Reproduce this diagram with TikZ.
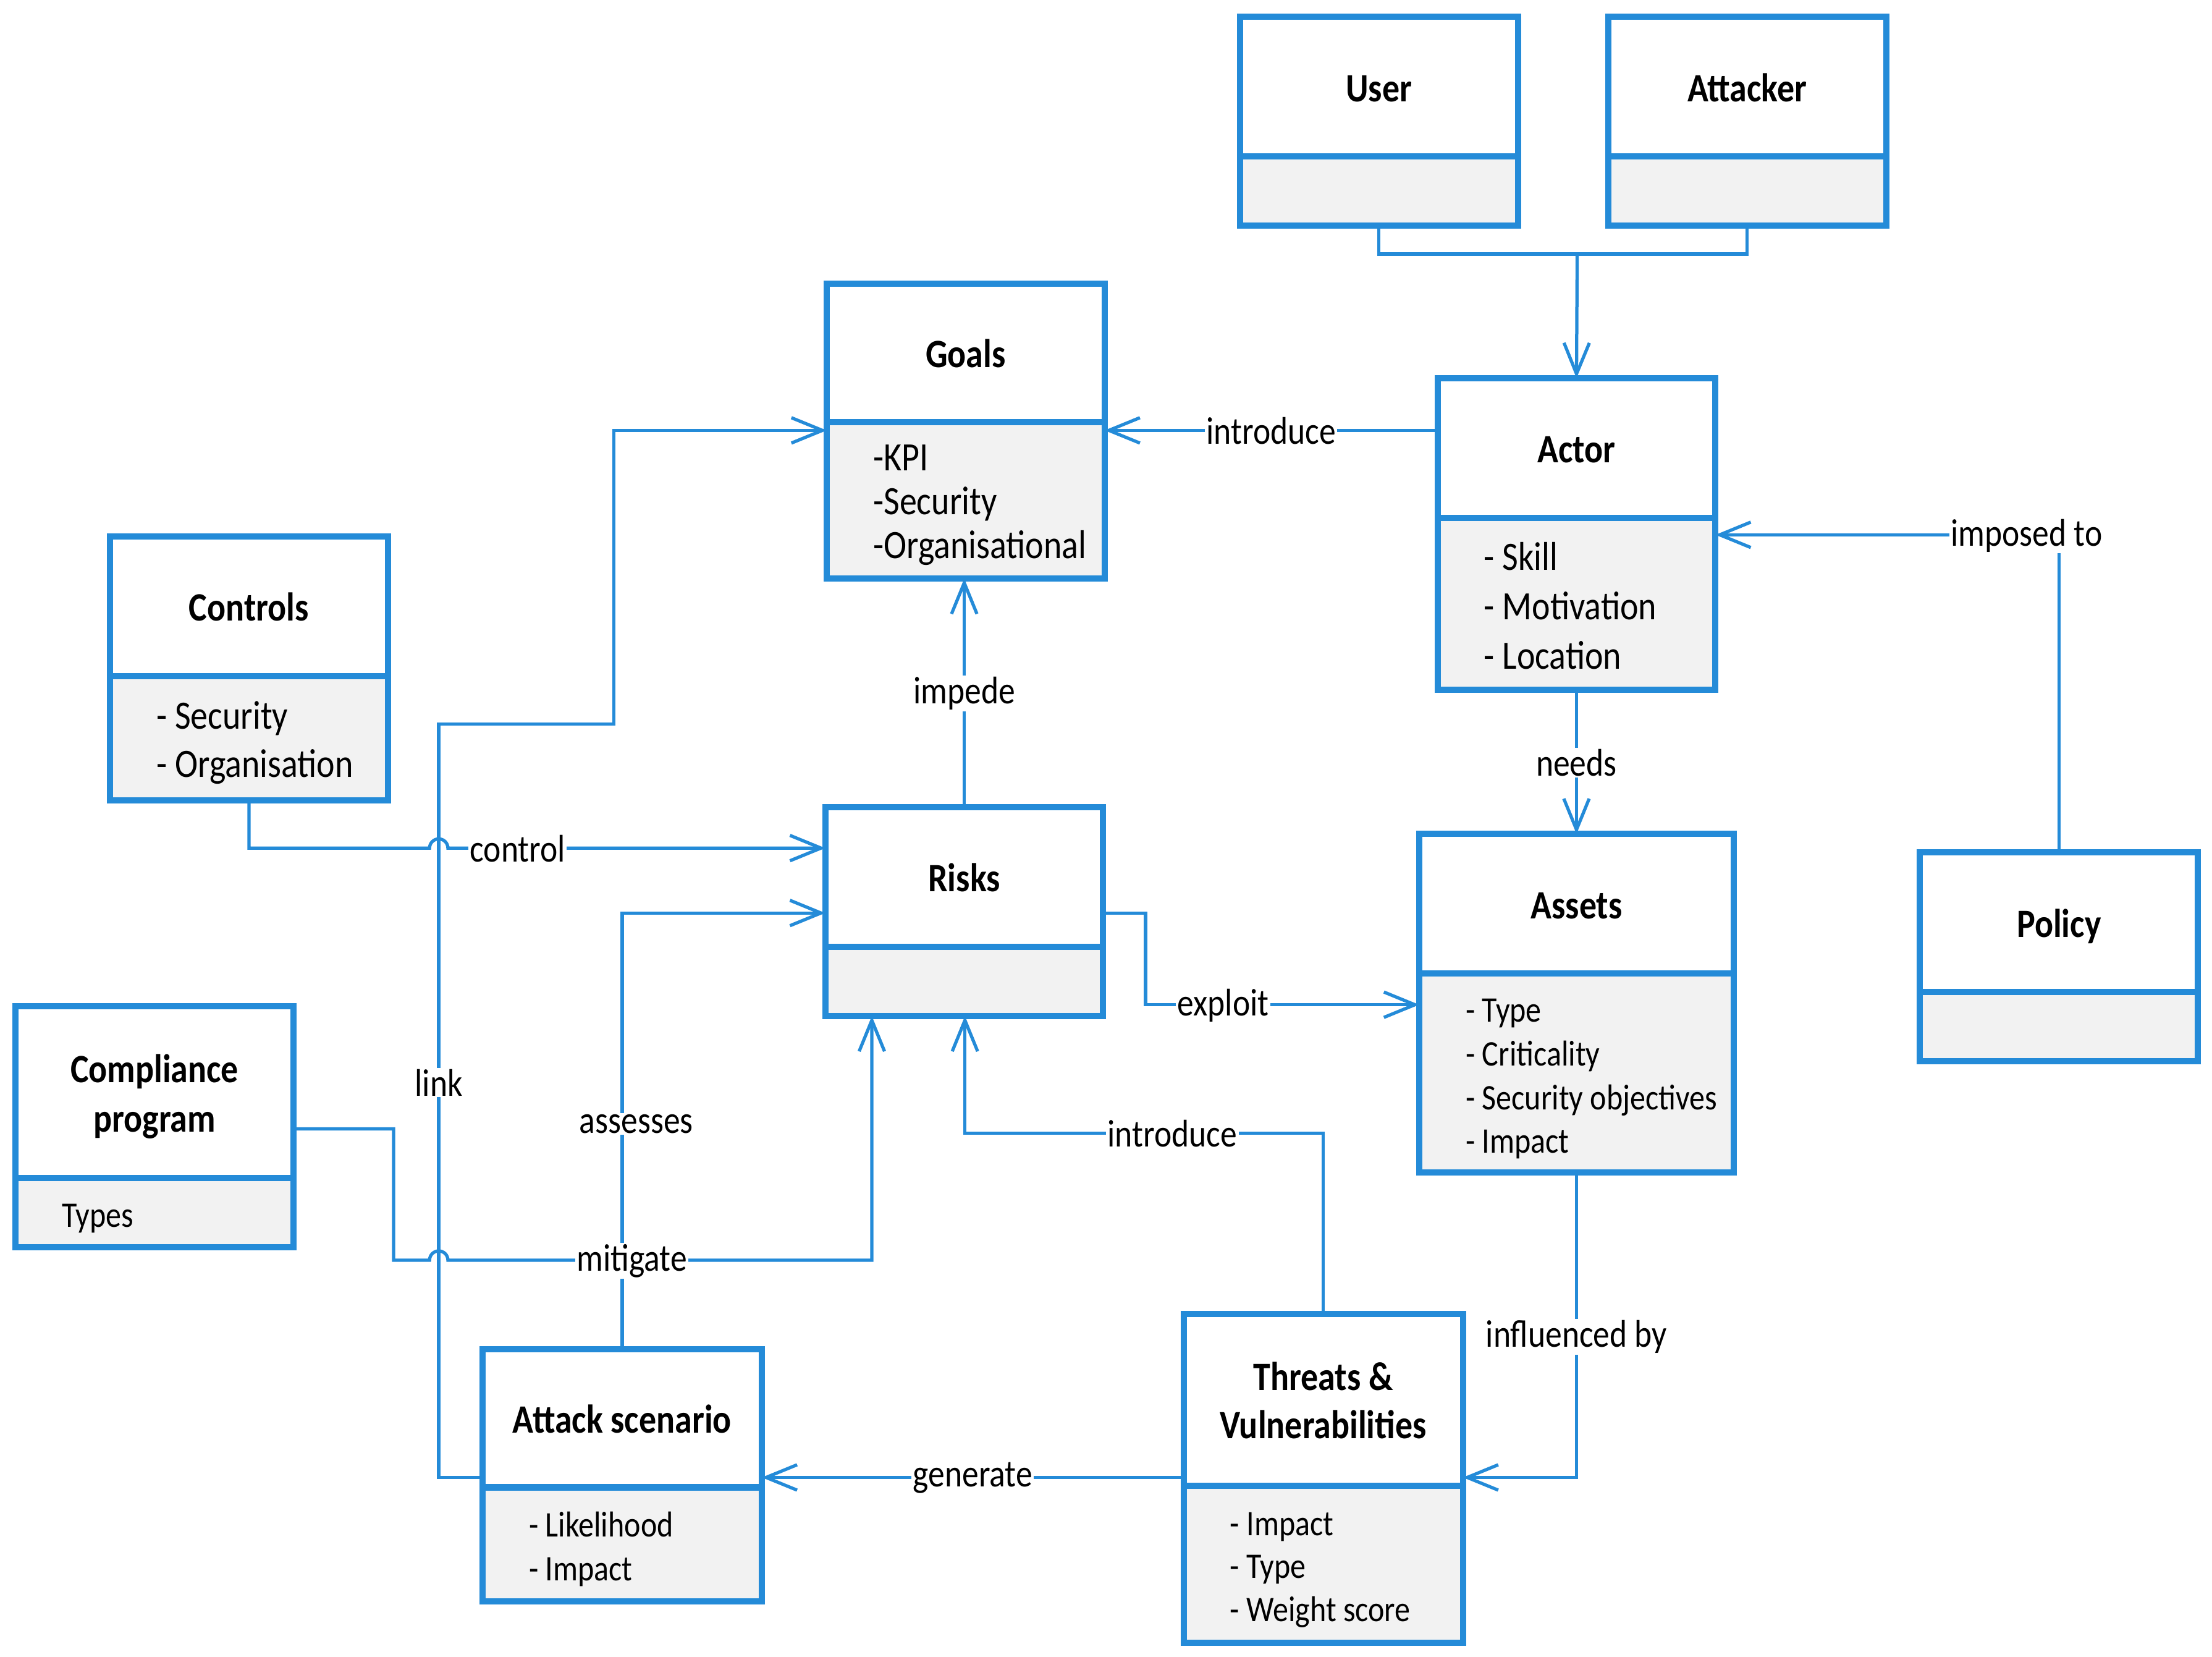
\documentclass[tikz,border=0pt]{standalone}
\usepackage{fontspec}
\setmainfont{Carlito}[FakeStretch=0.86]
\usetikzlibrary{arrows.meta}
\definecolor{umlblue}{RGB}{36,139,216}
\definecolor{cgrey}{RGB}{242,242,242}
\newcommand{\ilist}[2]{\raisebox{-4pt}[\height][\depth]{\makebox[#1pt][l]{\begin{tabular}{@{}l@{}}#2\end{tabular}}}}
\newcommand{\ttl}[1]{\raisebox{-3.5pt}[\height][\depth]{\begin{tabular}{@{}c@{}}#1\end{tabular}}}
\begin{document}
\begin{tikzpicture}[x=1pt,y=-1pt,
  hdr/.style={draw=umlblue, line width=4.4pt, fill=white, outer sep=0pt, inner sep=0pt,
    anchor=north west, font=\fontsize{28.5}{35}\selectfont\bfseries},
  bdy/.style={draw=umlblue, line width=4.4pt, fill=cgrey, outer sep=0pt, inner sep=0pt,
    anchor=north west},
  big/.style={font=\fontsize{28.5}{31}\selectfont},
  small/.style={font=\fontsize{25.5}{31}\selectfont},
  conn/.style={draw=umlblue, line width=2.3pt},
  arr/.style={-{Straight Barb[length=22pt,width=18pt]}},
  lbl/.style={fill=white, inner sep=1pt, text=black, yshift=-0.5pt, font=\fontsize{27.3}{30}\selectfont}]
\useasboundingbox (0,0) rectangle (1568,1174);

% ---- classes ----
\node[hdr, minimum width=197pt, minimum height=99pt] (user) at (879,12) {\ttl{User}};
\node[bdy, minimum width=197pt, minimum height=49pt] (userb) at (879,111) {};

\node[hdr, minimum width=197pt, minimum height=99pt] (attacker) at (1140,12) {\ttl{Attacker}};
\node[bdy, minimum width=197pt, minimum height=49pt] (attackerb) at (1140,111) {};

\node[hdr, minimum width=197pt, minimum height=98pt] (goals) at (586,201) {\ttl{Goals}};
\node[bdy, big, minimum width=197pt, minimum height=111pt] (goalsb) at (586,299)
  {\ilist{131}{-KPI\\-Security\\-Organisational}};

\node[hdr, minimum width=197pt, minimum height=99pt] (actor) at (1019,268) {\ttl{Actor}};
\node[bdy, font=\fontsize{28.5}{35}\selectfont, minimum width=197pt, minimum height=122pt] (actorb) at (1019,367)
  {\ilist{131}{- Skill\\- Motivation\\- Location}};

\node[hdr, minimum width=197pt, minimum height=99pt] (controls) at (78,380) {\ttl{Controls}};
\node[bdy, font=\fontsize{28.5}{34}\selectfont, minimum width=197pt, minimum height=88pt] (controlsb) at (78,479)
  {\ilist{131}{- Security\\- Organisation}};

\node[hdr, minimum width=197pt, minimum height=99pt] (risks) at (585,572) {\ttl{Risks}};
\node[bdy, minimum width=197pt, minimum height=49pt] (risksb) at (585,671) {};

\node[hdr, minimum width=223pt, minimum height=99pt] (assets) at (1006,591) {\ttl{Assets}};
\node[bdy, small, minimum width=223pt, minimum height=141pt] (assetsb) at (1006,690)
  {\ilist{157}{- Type\\- Criticality\\- Security objectives\\- Impact}};

\node[hdr, minimum width=197pt, minimum height=99pt] (policy) at (1361,604) {\ttl{Policy}};
\node[bdy, minimum width=197pt, minimum height=49pt] (policyb) at (1361,703) {};

\node[hdr, minimum width=197pt, minimum height=122pt] (compliance) at (11,713) {\ttl{Compliance\\program}};
\node[bdy, small, minimum width=197pt, minimum height=49pt] (complianceb) at (11,835)
  {\ilist{131}{Types}};

\node[hdr, minimum width=198pt, minimum height=98pt] (attack) at (342,956) {\ttl{Attack scenario}};
\node[bdy, small, minimum width=198pt, minimum height=81pt] (attackb) at (342,1054)
  {\ilist{132}{- Likelihood\\- Impact}};

\node[hdr, minimum width=198pt, minimum height=122pt, font=\fontsize{28.5}{34}\selectfont\bfseries] (threats) at (839,931) {\ttl{Threats \&\\Vulnerabilities}};
\node[bdy, font=\fontsize{25.5}{30.5}\selectfont, minimum width=198pt, minimum height=111pt] (threatsb) at (839,1053)
  {\ilist{132}{- Impact\\- Type\\- Weight score}};

% ---- helper coordinates ----
\coordinate (j) at (1118,180);
\coordinate (r305) at (0,305);
\coordinate (r379) at (0,379);
\coordinate (r601) at (0,601);
\coordinate (r647) at (0,647);
\coordinate (r712) at (0,712);
\coordinate (r800) at (0,800);
\coordinate (r1047) at (0,1047);
\coordinate (c618) at (618,0);
\coordinate (c684) at (684,0);

% ---- connectors ----
\draw[conn] (userb.south) |- (j);
\draw[conn] (attackerb.south) |- (j);
\draw[conn,arr] (j) -- (actor.north);

\draw[conn,arr] (actor.west |- r305) -- node[lbl]{introduce} (goalsb.east |- r305);

\draw[conn,arr] (policy.north) |- node[lbl,pos=0.5,xshift=-23pt]{imposed to} (actorb.east |- r379);

\draw[conn,arr] (actorb.south) -- node[lbl]{needs} (assets.north);

\draw[conn,arr] (risks.north) -- node[lbl]{impede} (risks.north |- goalsb.south);

\draw[conn,arr] (attack.west |- r1047) -- (311,1047) -- node[lbl,pos=0.525]{link} (311,513)
  -- (435,513) -- (435,305) -- (goalsb.west |- r305);

\draw[conn,arr] (controlsb.south) |- (304.5,601) arc[start angle=180,end angle=0,radius=6.5pt]
  -- node[lbl,pos=0.185]{control} (risks.west |- r601);

\draw[conn,arr] (attack.north) -- node[lbl,pos=0.518,xshift=10pt]{assesses} (attack.north |- r647)
  -- (risks.west |- r647);

\draw[conn,arr] (compliance.east |- r800) -- (279,800) -- (279,893) -- (304.5,893)
  arc[start angle=180,end angle=0,radius=6.5pt]
  -- node[lbl,pos=0.434]{mitigate} (618,893) -- (risksb.south -| c618);

\draw[conn,arr] (risks.east |- r647) -- (812,647) -- (812,712)
  -- node[lbl,pos=0.284]{exploit} (assetsb.west |- r712);

\draw[conn,arr] (threats.north) -- (938,803) -- node[lbl,pos=0.421]{introduce} (684,803)
  -- (risksb.south -| c684);

\draw[conn,arr] (assetsb.south) -- node[lbl,pos=0.537]{influenced by} (1117.5,1047)
  -- (threats.east |- r1047);

\draw[conn,arr] (threats.west |- r1047) -- node[lbl]{generate} (attack.east |- r1047);
\end{tikzpicture}
\end{document}
